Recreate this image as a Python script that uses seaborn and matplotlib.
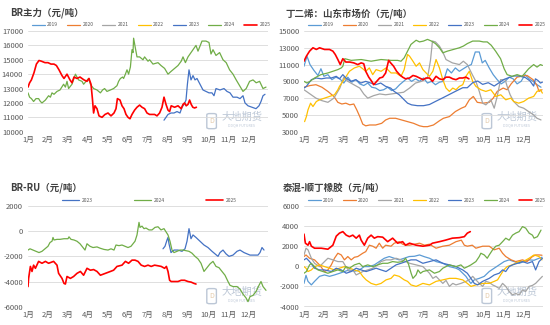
import numpy as np
import pandas as pd
import matplotlib
matplotlib.use("Agg")
import matplotlib.pyplot as plt
import seaborn as sns
from matplotlib.lines import Line2D
from matplotlib.patches import FancyBboxPatch

sns.set_theme(style="white")
plt.rcParams['font.family'] = ['Noto Sans CJK SC', 'DejaVu Sans']
plt.rcParams['axes.unicode_minus'] = False

MONTHS = ["1月", "2月", "3月", "4月", "5月", "6月", "7月", "8月", "9月", "10月", "11月", "12月"]
YEARS = ["2019", "2020", "2021", "2022", "2023", "2024", "2025"]
COLORS = {"2019": "#5B9BD5", "2020": "#ED7D31", "2021": "#A5A5A5", "2022": "#FFC000",
          "2023": "#4472C4", "2024": "#70AD47", "2025": "#FF0000"}

# ---------------- Panel 1: BR主力 (x = month index, 0 = Jan 1) ----------------
BR_X_2023 = [6.8, 6.9, 7.0, 7.15, 7.3, 7.45, 7.6, 7.7, 7.8, 7.9, 7.97, 8.05, 8.15, 8.25, 8.35, 8.45, 8.6, 8.75, 8.9,
             9.05, 9.2, 9.3, 9.4, 9.6, 9.8, 9.95, 10.1, 10.25, 10.45, 10.6, 10.75, 10.85, 11.0, 11.2, 11.4, 11.55,
             11.65, 11.75, 11.85]
BR_Y_2023 = [10800, 11000, 11200, 11300, 11300, 11400, 11300, 11700, 11900, 12200, 13300, 14300, 13600, 13900, 13600,
             13700, 13300, 12900, 12800, 12700, 12700, 12500, 13000, 12900, 13000, 12800, 12700, 12400, 12400, 12300,
             12500, 12000, 11800, 11700, 11600, 11800, 12100, 12500, 12600]
BR_X_2024 = [0.0, 0.08, 0.17, 0.28, 0.4, 0.53, 0.62, 0.7, 0.87, 1.03, 1.12, 1.2, 1.3, 1.45, 1.6, 1.78, 1.87, 1.95,
             2.03, 2.2, 2.37, 2.53, 2.7, 2.78, 2.9, 3.03, 3.12, 3.28, 3.45, 3.62, 3.73, 3.83, 3.95, 4.12, 4.28, 4.45,
             4.53, 4.62, 4.73, 4.78, 4.87, 4.95, 5.03, 5.12, 5.2, 5.25, 5.28, 5.37, 5.45, 5.58, 5.75, 5.83, 6.0,
             6.08, 6.25, 6.5, 6.65, 6.83, 7.0, 7.16, 7.33, 7.5, 7.66, 7.75, 7.87, 8.0, 8.2, 8.4, 8.5, 8.7, 8.9,
             9.05, 9.15, 9.25, 9.4, 9.58, 9.75, 9.91, 10.08, 10.25, 10.41, 10.58, 10.75, 10.91, 11.08, 11.25, 11.41,
             11.58, 11.75, 11.9]
BR_Y_2024 = [12700, 12400, 12300, 12100, 12300, 12300, 12100, 12000, 12200, 12500, 12400, 12700, 12600, 12800,
             12900, 13300, 13100, 13500, 13000, 13300, 14000, 13600, 13500, 13300, 13500, 13700, 13300, 13000,
             12900, 12700, 12900, 13000, 12800, 12900, 13000, 13200, 13500, 13700, 13800, 13700, 14000, 14300,
             14000, 14500, 15700, 15500, 16500, 15800, 15200, 15200, 15000, 15200, 14900, 15000, 14700, 14800,
             14600, 14400, 14000, 14200, 14400, 14600, 14900, 15200, 14800, 15200, 15600, 16000, 15600, 16300,
             16300, 16200, 15400, 15700, 15300, 15500, 15000, 14800, 14300, 14000, 13600, 13200, 12800, 13000,
             13500, 13600, 13400, 13500, 13000, 13100]
BR_X_2025 = [0.0, 0.08, 0.17, 0.3, 0.42, 0.55, 0.67, 0.85, 1.0, 1.15, 1.3, 1.42, 1.55, 1.7, 1.8, 1.95, 2.1, 2.2,
             2.3, 2.45, 2.6, 2.8, 2.95, 3.05, 3.15, 3.22, 3.28, 3.35, 3.45, 3.55, 3.7, 3.85, 4.0, 4.15, 4.3, 4.4,
             4.47, 4.6, 4.7, 4.8, 4.9, 5.0, 5.1, 5.2, 5.33, 5.45, 5.58, 5.7, 5.83, 5.95, 6.08, 6.33, 6.45, 6.58,
             6.7, 6.8, 6.9, 7.0, 7.08, 7.16, 7.33, 7.5, 7.66, 7.75, 7.83, 7.91, 8.0, 8.08, 8.16, 8.24, 8.33, 8.42]
BR_Y_2025 = [13100, 13400, 13600, 14100, 14700, 14950, 14900, 14800, 14800, 14700, 14700, 14600, 14300, 13900,
             13700, 14000, 13600, 13400, 13800, 13700, 13800, 13600, 13500, 13700, 13300, 12300, 11300, 11800,
             11600, 11100, 11000, 11200, 11300, 11100, 11300, 11600, 12300, 12200, 11800, 11600, 11200, 11000,
             10900, 11200, 11500, 11700, 11850, 11700, 11600, 11300, 11200, 11200, 11100, 11300, 11700, 12400,
             11900, 11500, 11400, 11800, 11700, 11800, 11600, 11900, 12000, 11800, 11900, 12200, 11900, 11700,
             11650, 11700]

# ---------------- Panel 2: 丁二烯 山东市场价 ----------------
DI_X_2019 = [0, 0.15, 0.3, 0.5, 0.7, 0.85, 1.0, 1.2, 1.4, 1.6, 1.8, 2.0, 2.2, 2.4, 2.6, 2.8, 3.0, 3.2, 3.4, 3.6,
             3.8, 4.0, 4.2, 4.4, 4.6, 4.8, 5.0, 5.2, 5.4, 5.6, 5.8, 6.0, 6.2, 6.4, 6.6, 6.8, 7.0, 7.2, 7.4, 7.6,
             7.8, 8.0, 8.2, 8.4, 8.6, 8.8, 8.95, 9.1, 9.3, 9.5, 9.7, 9.9, 10.1, 10.3, 10.5, 10.7, 10.9, 11.1,
             11.3, 11.5, 11.7, 11.9]
DI_Y_2019 = [10800, 12000, 11000, 10300, 9700, 10500, 9600, 9800, 9200, 9500, 9300, 8800, 9500, 8900, 9200, 8700,
             8500, 8800, 8300, 8200, 7900, 8000, 8300, 7900, 8100, 8600, 9000, 9400, 9000, 9300, 9000, 9400, 8800,
             9000, 8600, 8900, 9000, 10500, 10000, 10600, 10200, 10500, 10800, 11000, 12500, 12500, 11200, 11500,
             10600, 9800, 9200, 8700, 9000, 9500, 9300, 8700, 9000, 9800, 9300, 9000, 8600, 8300]
DI_X_2020 = [0, 0.3, 0.6, 0.9, 1.2, 1.5, 1.7, 1.9, 2.1, 2.3, 2.5, 2.65, 2.8, 2.95, 3.1, 3.3, 3.6, 3.9, 4.1, 4.3,
             4.6, 4.9, 5.2, 5.5, 5.8, 6.0, 6.2, 6.5, 6.8, 7.0, 7.3, 7.6, 7.9, 8.1, 8.3, 8.5, 8.7, 9.0, 9.3, 9.5,
             9.7, 10.0, 10.2, 10.4, 10.7, 10.9, 11.2, 11.5, 11.7, 11.8, 11.95]
DI_Y_2020 = [8300, 8500, 8600, 8300, 7800, 7200, 6500, 6300, 6400, 6200, 6300, 5600, 4800, 3900, 3700, 3800, 3800,
             4000, 4400, 4600, 4600, 4400, 4200, 4000, 3700, 3600, 3600, 3800, 4300, 4600, 4800, 5400, 5800, 6000,
             6800, 7200, 6500, 6400, 6500, 7000, 7800, 8200, 8000, 8700, 9500, 9600, 9700, 9200, 8500, 7800, 8000]
DI_X_2021 = [0, 0.3, 0.6, 0.9, 1.2, 1.5, 1.8, 2.0, 2.2, 2.5, 2.8, 3.0, 3.2, 3.5, 3.8, 4.1, 4.4, 4.7, 5.0, 5.3,
             5.6, 5.9, 6.2, 6.35, 6.45, 6.6, 6.8, 6.95, 7.13, 7.45, 7.8, 8.0, 8.2, 8.45, 8.63, 8.8, 8.97, 9.13,
             9.38, 9.55, 9.7, 9.87, 10.1, 10.2, 10.35, 10.53, 10.78, 11.03, 11.28, 11.53, 11.7, 11.9]
DI_Y_2021 = [8000, 7500, 7000, 6700, 6500, 7000, 8200, 9500, 9000, 8600, 8200, 7500, 7000, 7300, 7500, 7400, 7500,
             7600, 7700, 8200, 8800, 9000, 9400, 11500, 13800, 13700, 13200, 12600, 11600, 11200, 11000, 11400,
             11000, 9800, 9000, 7800, 6400, 6200, 6800, 5800, 7200, 9200, 9200, 8400, 7400, 6600, 6000, 5800,
             5400, 5000, 4600, 4400]
DI_X_2022 = [0.03, 0.12, 0.2, 0.33, 0.45, 0.62, 0.78, 1.03, 1.28, 1.53, 1.7, 1.78, 1.95, 2.12, 2.28, 2.53, 2.78,
             2.95, 3.1, 3.28, 3.45, 3.62, 3.87, 4.12, 4.37, 4.62, 4.87, 5.03, 5.12, 5.2, 5.3, 5.47, 5.63, 5.8,
             5.97, 6.13, 6.3, 6.47, 6.63, 6.8, 6.97, 7.13, 7.3, 7.47, 7.63, 7.8, 7.97, 8.13, 8.3, 8.47, 8.63,
             8.88, 9.13, 9.38, 9.63, 9.88, 10.13, 10.38, 10.53, 10.78, 11.03, 11.28, 11.53, 11.7, 11.87, 11.97]
DI_Y_2022 = [4200, 4800, 5600, 6400, 6000, 6600, 6800, 7000, 7200, 7400, 8000, 8400, 9000, 9600, 10200, 10600,
             10800, 10500, 10200, 10600, 9800, 10400, 10200, 10600, 10000, 10000, 9600, 10400, 11400, 12200,
             12000, 11400, 10800, 11200, 10400, 10000, 9600, 10200, 11600, 10600, 9200, 8200, 7800, 8200, 8000,
             8400, 8600, 9600, 10200, 9000, 8400, 8000, 7800, 8000, 7200, 7400, 6800, 7000, 6600, 6400, 6600,
             7000, 7200, 7800, 8000, 7600]
DI_X_2023 = [0, 0.12, 0.37, 0.62, 0.87, 1.12, 1.37, 1.62, 1.78, 1.95, 2.1, 2.35, 2.6, 2.85, 3.1, 3.35, 3.6, 3.85,
             4.1, 4.35, 4.53, 4.78, 5.03, 5.2, 5.4, 5.7, 6.0, 6.3, 6.63, 6.97, 7.3, 7.63, 7.97, 8.2, 8.47, 8.72,
             8.97, 9.25, 9.55, 9.8, 10.05, 10.28, 10.53, 10.8, 11.12, 11.35, 11.53, 11.62, 11.75, 11.87, 11.97]
DI_Y_2023 = [8200, 8400, 9200, 9400, 9300, 9400, 9400, 9600, 9300, 9800, 9400, 9000, 9200, 8800, 9000, 8800, 8600,
             8800, 8400, 8200, 7800, 7400, 6800, 6400, 6200, 6100, 6100, 6240, 6640, 7040, 7440, 7840, 8240, 8240,
             8840, 9040, 8640, 8840, 8440, 8840, 9240, 9440, 9640, 9640, 9440, 9040, 8440, 9300, 9100, 8800, 8900]
DI_X_2024 = [0, 0.15, 0.3, 0.53, 0.85, 1.2, 1.45, 1.7, 1.87, 1.95, 2.05, 2.37, 2.87, 3.37, 3.87, 4.37, 4.7, 4.87,
             5.03, 5.2, 5.37, 5.63, 5.8, 6.0, 6.2, 6.4, 6.6, 6.8, 6.97, 7.2, 7.5, 7.8, 8.0, 8.2, 8.47, 8.8, 9.0,
             9.2, 9.4, 9.62, 9.87, 10.05, 10.2, 10.45, 10.7, 10.95, 11.1, 11.28, 11.53, 11.7, 11.87, 11.97]
DI_Y_2024 = [9000, 8800, 9000, 9400, 9800, 10000, 10200, 10400, 10600, 10800, 11700, 11500, 11600, 11400, 11600,
             11500, 11500, 11400, 11800, 12600, 13400, 13900, 13700, 13800, 14000, 13800, 13500, 13000, 12400,
             12600, 12800, 13000, 13200, 13500, 13800, 13800, 13700, 13700, 13300, 12600, 11700, 10500, 9800,
             9600, 9800, 9600, 10000, 10500, 11000, 10700, 11000, 10900]
DI_X_2025 = [0, 0.12, 0.28, 0.45, 0.62, 0.78, 1.03, 1.28, 1.45, 1.57, 1.7, 1.82, 1.95, 2.1, 2.3, 2.5, 2.7, 2.87,
             3.0, 3.1, 3.25, 3.4, 3.5, 3.65, 3.8, 3.95, 4.1, 4.25, 4.35, 4.5, 4.65, 4.8, 4.95, 5.1, 5.3, 5.47,
             5.63, 5.8, 5.97, 6.13, 6.3, 6.45, 6.63, 6.8, 6.97, 7.13, 7.3, 7.47, 7.63, 7.8, 7.97, 8.13, 8.28]
DI_Y_2025 = [11400, 12000, 12600, 13000, 12800, 13000, 12800, 12800, 12600, 12200, 11600, 11000, 11700, 11300,
             11300, 11200, 11000, 11200, 11100, 10200, 9500, 9000, 8600, 9000, 9400, 9500, 10000, 11500, 11200,
             10800, 10200, 9800, 9500, 9300, 9400, 9700, 9600, 9400, 9200, 9400, 9400, 9000, 9600, 9300, 9200,
             9500, 9500, 9300, 9200, 9400, 9400, 9500, 9300]

# ---------------- Panel 3: BR-RU ----------------
RU_X_2023 = [6.75, 6.85, 6.95, 7.0, 7.05, 7.15, 7.3, 7.5, 7.7, 7.85, 7.95, 8.05, 8.15, 8.25, 8.4, 8.6, 8.8, 9.0,
             9.2, 9.35, 9.5, 9.6, 9.75, 9.9, 10.05, 10.25, 10.45, 10.6, 10.8, 10.95, 11.1, 11.3, 11.5, 11.6, 11.7,
             11.8]
RU_Y_2023 = [-1400, -1200, -700, -500, -1000, -1700, -1500, -1500, -1600, -1400, -800, 200, -600, -300, -500, -800,
             -1100, -1300, -1600, -1800, -2000, -1700, -1500, -1800, -2000, -1900, -1600, -1500, -1700, -1800,
             -1900, -1900, -1900, -1700, -1300, -1500]
RU_X_2024 = [0.0, 0.1, 0.25, 0.4, 0.55, 0.7, 0.85, 1.0, 1.1, 1.2, 1.25, 1.3, 1.45, 1.6, 1.8, 2.0, 2.05, 2.15, 2.3,
             2.45, 2.6, 2.75, 2.85, 2.95, 3.1, 3.25, 3.45, 3.6, 3.8, 4.0, 4.15, 4.3, 4.4, 4.55, 4.7, 4.85, 5.0,
             5.15, 5.25, 5.35, 5.45, 5.5, 5.55, 5.6, 5.7, 5.8, 5.9, 6.05, 6.2, 6.35, 6.5, 6.65, 6.8, 6.9, 7.0,
             7.1, 7.2, 7.3, 7.45, 7.6, 7.75, 7.9, 8.05, 8.2, 8.35, 8.5, 8.65, 8.8, 8.95, 9.1, 9.25, 9.4, 9.55,
             9.7, 9.85, 10.0, 10.1, 10.25, 10.45, 10.6, 10.75, 10.9, 11.0, 11.1, 11.25, 11.4, 11.55, 11.65,
             11.75, 11.9]
RU_Y_2024 = [-1500, -1400, -1500, -1600, -1700, -1600, -1400, -1200, -900, -800, -500, -700, -650, -650, -600,
             -600, -450, -650, -700, -800, -1000, -1300, -1500, -1000, -1200, -1300, -1250, -1350, -1450, -1500,
             -1400, -1500, -1100, -1150, -1100, -1200, -1300, -1200, -1000, -800, -300, 200, 700, 300, 400, 200,
             250, 100, 100, 300, 350, 100, 200, -50, -300, -800, -1500, -1700, -1600, -1500, -1500, -1550, -1600,
             -1750, -2000, -2200, -2550, -3200, -2900, -2600, -2400, -2800, -2900, -3200, -3500, -4000, -4300,
             -4400, -4400, -4600, -5000, -5300, -5600, -5200, -5100, -4800, -4300, -4000, -4400, -4700]
RU_X_2025 = [0.0, 0.03, 0.12, 0.2, 0.28, 0.37, 0.53, 0.7, 0.87, 1.03, 1.28, 1.45, 1.53, 1.7, 1.8, 1.87, 1.95,
             2.12, 2.28, 2.45, 2.62, 2.78, 2.95, 3.12, 3.28, 3.45, 3.62, 3.87, 4.12, 4.28, 4.45, 4.7, 4.87, 5.03,
             5.2, 5.35, 5.5, 5.66, 5.83, 6.0, 6.16, 6.33, 6.5, 6.66, 6.83, 6.92, 7.0, 7.08, 7.16, 7.33, 7.5, 7.66,
             7.83, 8.0, 8.16, 8.3, 8.4]
RU_Y_2025 = [-4400, -3750, -2800, -3200, -2700, -2950, -2400, -2550, -2400, -2550, -2400, -2700, -3350, -3750,
             -4150, -4200, -3600, -3750, -3600, -3350, -3200, -3500, -2950, -3100, -3050, -3200, -3500, -3350,
             -3200, -3100, -2800, -2700, -2400, -2550, -2300, -2300, -2400, -2700, -2800, -2700, -2800, -2700,
             -2750, -2800, -2950, -2800, -3200, -3900, -4000, -4000, -4000, -3900, -3900, -4000, -4050, -4150,
             -4200]

# ---------------- Panel 4: 泰混-顺丁橡胶 ----------------
TH_X_2019 = [0, 0.1, 0.2, 0.37, 0.53, 0.78, 1.03, 1.28, 1.53, 1.78, 2.03, 2.28, 2.53, 2.78, 3.03, 3.28, 3.53, 3.78,
             4.03, 4.28, 4.53, 4.78, 5.03, 5.28, 5.55, 5.8, 6.05, 6.3, 6.63, 6.97, 7.3, 7.63, 7.8, 7.97, 8.13, 8.3,
             8.38, 8.55, 8.8, 9.05, 9.3, 9.55, 9.8, 10.05, 10.3, 10.55, 10.8, 11.05, 11.3, 11.55, 11.8, 11.95]
TH_Y_2019 = [-1700, -900, -1500, -1850, -1500, -1000, -860, -1000, -860, -700, -520, -360, -500, -360, -30, -30,
             140, 470, 800, 970, 800, 640, 800, 970, 1000, 1130, 950, 800, 470, 300, -30, -190, -360, -690, -1000,
             -1500, -1700, -1350, -1200, -1000, -520, -190, 140, 470, 640, 470, 300, 470, 640, 600, 800, 900]
TH_X_2020 = [0, 0.1, 0.28, 0.53, 0.78, 1.03, 1.2, 1.37, 1.53, 1.7, 1.87, 2.03, 2.2, 2.37, 2.53, 2.7, 2.95, 3.1,
             3.28, 3.45, 3.62, 3.78, 3.95, 4.1, 4.37, 4.53, 4.78, 4.95, 5.1, 5.3, 5.55, 5.8, 6.05, 6.3, 6.63, 6.97,
             7.3, 7.63, 7.9, 8.05, 8.2, 8.45, 8.63, 8.97, 9.3, 9.55, 9.8, 9.97, 10.13, 10.4, 10.63, 10.97, 11.2,
             11.47, 11.63, 11.8, 11.95]
TH_Y_2020 = [970, 1130, 800, 640, 140, -520, -360, 140, 800, 1300, 1130, 640, 970, 640, 900, 970, 1300, 1460, 2100,
             2000, 1800, 2300, 1800, 2100, 2000, 2300, 2450, 2200, 2100, 2100, 2200, 2300, 2100, 2200, 1800, 2000,
             2100, 2450, 2600, 2100, 2000, 2100, 1800, 2000, 2000, 1640, 1800, 1300, 970, 640, 470, 640, 470, 970,
             1130, 1130, 1100]
TH_X_2021 = [0, 0.1, 0.2, 0.37, 0.53, 0.78, 1.03, 1.2, 1.45, 1.7, 1.95, 2.1, 2.28, 2.45, 2.62, 2.78, 2.95, 3.2,
             3.45, 3.7, 3.87, 4.12, 4.37, 4.62, 4.87, 5.12, 5.3, 5.63, 5.97, 6.3, 6.47, 6.63, 6.8, 6.97, 7.13, 7.3,
             7.47, 7.63, 7.88, 8.13, 8.3, 8.47, 8.63, 8.8, 8.97, 9.13, 9.3, 9.47, 9.63, 9.8, 9.97, 10.13, 10.3,
             10.47, 10.63, 10.8, 10.97, 11.13, 11.3, 11.47, 11.63, 11.8, 11.97]
TH_Y_2021 = [1130, 1800, 1640, 800, 300, -30, 470, 800, 640, 470, 470, -30, -520, -360, -860, -700, -520, -360,
             -190, 140, 470, 640, 640, 800, 640, 470, 300, 140, -30, -690, -1200, -1000, -1350, -1700, -1400,
             -2000, -1700, -1850, -1700, -1500, -1350, -1000, -1350, -1700, -2000, -1500, -1600, -1850, -2000,
             -2200, -1700, -2000, -2500, -2850, -2700, -2850, -2350, -2500, -2000, -1900, -1700, -1350, -1000]
TH_X_2022 = [0, 0.1, 0.2, 0.37, 0.53, 0.78, 1.03, 1.28, 1.53, 1.78, 2.03, 2.28, 2.53, 2.78, 2.95, 3.12, 3.37,
             3.62, 3.87, 4.12, 4.37, 4.53, 4.78, 5.03, 5.2, 5.37, 5.63, 5.97, 6.3, 6.63, 6.97, 7.3, 7.63, 7.97,
             8.2, 8.38, 8.63, 8.97, 9.3, 9.55, 9.72, 9.87, 10.03, 10.2, 10.45, 10.8, 11.03, 11.3, 11.55, 11.8,
             11.95]
TH_Y_2022 = [-30, -190, -520, -360, -30, 140, -30, -190, -360, -190, -30, -190, -360, -520, -1000, -1350, -1700,
             -1850, -1700, -1350, -1200, -860, -1000, -1350, -1500, -1850, -2000, -1700, -1850, -1500, -1350,
             -1200, -1200, -1350, -1700, -2000, -1850, -1700, -1700, -1500, -1350, -860, -360, -30, 140, 470, 500,
             800, 1130, 970, 640]
TH_X_2023 = [0, 0.12, 0.28, 0.53, 0.78, 1.03, 1.37, 1.62, 1.87, 2.12, 2.37, 2.62, 2.87, 3.12, 3.37, 3.62, 3.87,
             4.12, 4.37, 4.62, 4.87, 5.12, 5.37, 5.63, 5.97, 6.3, 6.63, 6.97, 7.3, 7.63, 7.97, 8.2, 8.38, 8.55,
             8.72, 8.97, 9.3, 9.55, 9.8, 9.97, 10.13, 10.3, 10.47, 10.72, 10.97, 11.22, 11.47, 11.63, 11.8, 11.97]
TH_Y_2023 = [640, 800, 470, -190, -360, -360, -520, -190, -360, -690, -520, -190, -360, -520, -360, -190, -360,
             -520, -190, 140, 300, 470, 640, 640, 300, 470, 640, 300, 140, -30, -360, -690, -1200, -1700, -1850,
             -1500, -1200, -860, -690, -360, -520, -30, 140, 300, 470, 300, 470, -360, 470, 800]
TH_X_2024 = [0, 0.12, 0.28, 0.37, 0.53, 0.7, 0.95, 1.2, 1.45, 1.7, 1.95, 2.1, 2.28, 2.53, 2.78, 2.95, 3.2, 3.45,
             3.7, 3.95, 4.2, 4.45, 4.7, 4.95, 5.1, 5.25, 5.38, 5.47, 5.63, 5.72, 5.85, 5.97, 6.3, 6.55, 6.8, 6.97,
             7.13, 7.3, 7.63, 7.88, 8.05, 8.22, 8.38, 8.63, 8.8, 8.88, 9.05, 9.2, 9.3, 9.47, 9.63, 9.8, 9.97,
             10.13, 10.3, 10.47, 10.63, 10.8, 10.97, 11.13, 11.3, 11.47, 11.55, 11.72, 11.9]
TH_Y_2024 = [-690, -520, 140, 300, -30, -360, -520, -690, -520, -360, -520, -30, -190, 140, 300, -30, 140, -30,
             140, 300, 300, 470, 400, 470, 800, 200, -700, -1200, -850, -360, -700, -520, -360, -690, -520, -190,
             -30, 140, -30, 140, -190, -30, 140, 470, 970, 1300, 1130, 800, 1130, 1640, 2000, 2100, 2450, 2800,
             2600, 3100, 3300, 3450, 3950, 3800, 3300, 3100, 2800, 2950, 3600]
TH_X_2025 = [0, 0.03, 0.07, 0.2, 0.28, 0.37, 0.53, 0.87, 1.2, 1.45, 1.62, 1.78, 1.95, 2.12, 2.28, 2.45, 2.62, 2.78,
             2.87, 3.03, 3.2, 3.37, 3.53, 3.7, 3.95, 4.2, 4.45, 4.7, 4.95, 5.1, 5.3, 5.63, 5.97, 6.3, 6.45, 6.8,
             7.1, 7.45, 7.8, 8.05, 8.2, 8.35]
TH_Y_2025 = [3200, 2800, 2300, 2100, 2450, 2000, 1800, 1800, 1700, 2100, 3000, 3300, 3450, 3100, 2950, 3100, 2800,
             3100, 2600, 2100, 2800, 3100, 2800, 2950, 2900, 2450, 2800, 2300, 2450, 2100, 2300, 2100, 2000, 2100,
             2300, 2450, 2600, 2800, 2850, 2950, 3300, 3450]

PANELS = [
    dict(title="BR主力（元/吨）", rect=(28, 268, 31, 131.7), title_xy=(10, 13),
         series={"2023": (BR_X_2023, BR_Y_2023), "2024": (BR_X_2024, BR_Y_2024), "2025": (BR_X_2025, BR_Y_2025)},
         ylim=(10000, 17000), yticks=list(range(10000, 17001, 1000)), legend=YEARS),
    dict(title="丁二烯：山东市场价（元/吨）", rect=(304, 543, 31, 131.7), title_xy=(285, 14),
         series={"2019": (DI_X_2019, DI_Y_2019), "2020": (DI_X_2020, DI_Y_2020), "2021": (DI_X_2021, DI_Y_2021),
                 "2022": (DI_X_2022, DI_Y_2022), "2023": (DI_X_2023, DI_Y_2023), "2024": (DI_X_2024, DI_Y_2024),
                 "2025": (DI_X_2025, DI_Y_2025)},
         ylim=(3000, 15000), yticks=list(range(3000, 15001, 2000)), legend=YEARS),
    dict(title="BR-RU（元/吨）", rect=(28, 268, 206, 306.7), title_xy=(10, 188),
         series={"2023": (RU_X_2023, RU_Y_2023), "2024": (RU_X_2024, RU_Y_2024), "2025": (RU_X_2025, RU_Y_2025)},
         ylim=(-6000, 2000), yticks=list(range(-6000, 2001, 2000)), legend=["2023", "2024", "2025"]),
    dict(title="泰混-顺丁橡胶（元/吨）", rect=(304, 543, 206, 306.5), title_xy=(283, 188),
         series={"2019": (TH_X_2019, TH_Y_2019), "2020": (TH_X_2020, TH_Y_2020), "2021": (TH_X_2021, TH_Y_2021),
                 "2022": (TH_X_2022, TH_Y_2022), "2023": (TH_X_2023, TH_Y_2023), "2024": (TH_X_2024, TH_Y_2024),
                 "2025": (TH_X_2025, TH_Y_2025)},
         ylim=(-4000, 6000), yticks=list(range(-4000, 6001, 2000)), legend=YEARS),
]

W, H = 550, 325
fig = plt.figure(figsize=(5.5, 3.25), dpi=100)
fig.patch.set_facecolor("white")
TXT = "#595959"
WM = "#BCC7D6"


def watermark(ax):
    ax.add_patch(FancyBboxPatch((0.745, 0.03), 0.04, 0.15, boxstyle="round,pad=0,rounding_size=0.012",
                                transform=ax.transAxes, fc="none", ec=WM, lw=1.0, zorder=0.5))
    ax.text(0.765, 0.105, "D", transform=ax.transAxes, fontsize=5, color="#E3C9A8", ha="center", va="center",
            zorder=0.5)
    ax.text(0.89, 0.15, "大地期货", transform=ax.transAxes, fontsize=7.4, color=WM, ha="center", va="center",
            zorder=0.5)
    ax.text(0.89, 0.062, "DDQH FUTURES", transform=ax.transAxes, fontsize=2.6, color=WM, ha="center",
            va="center", zorder=0.5)


for p in PANELS:
    x0, x1, yt, yb = p["rect"]
    ax = fig.add_axes([x0 / W, 1 - yb / H, (x1 - x0) / W, (yb - yt) / H])
    watermark(ax)
    for year, (xs, ys) in p["series"].items():
        df = pd.DataFrame({"month": xs, "value": ys})
        sns.lineplot(data=df, x="month", y="value", ax=ax, color=COLORS[year],
                     linewidth=1.2 if year == "2025" else 0.9, estimator=None, sort=False, legend=False)
    ax.set_xlim(0, 12)
    ax.set_ylim(*p["ylim"])
    ax.set_yticks(p["yticks"])
    ax.set_yticklabels([str(v) for v in p["yticks"]])
    ax.set_xticks(range(12))
    ax.set_xticklabels(MONTHS)
    ax.set_xlabel("")
    ax.set_ylabel("")
    ax.tick_params(axis="both", length=0, labelsize=5.5, colors=TXT)
    ax.tick_params(axis="x", pad=3.0)
    ax.tick_params(axis="y", pad=3.5)
    ax.grid(False)
    ax.yaxis.grid(True, color="#D9D9D9", linewidth=0.6)
    ax.set_axisbelow(True)
    for s in ax.spines.values():
        s.set_visible(False)
    ax.set_facecolor("none")

    years = p["legend"]
    handles = [Line2D([], [], color=COLORS[y], lw=1.2 if y == "2025" else 0.9) for y in years]
    h_ax = yb - yt
    if len(years) == 7:
        leg = ax.legend(handles, years, loc="center", bbox_to_anchor=(0.015, 1 + 6.0 / h_ax, 0.995, 0),
                        mode="expand", ncol=7, frameon=False, fontsize=3.6, handlelength=2.6,
                        handletextpad=0.5, borderaxespad=0, borderpad=0)
    else:
        leg = ax.legend(handles, years, loc="center", bbox_to_anchor=(0.14, 1 + 5.3 / h_ax, 0.73, 0),
                        mode="expand", ncol=3, frameon=False, fontsize=3.6, handlelength=3.5,
                        handletextpad=0.5, borderaxespad=0, borderpad=0)
    for t in leg.get_texts():
        t.set_color(TXT)

    tx, ty = p["title_xy"]
    fig.text(tx / W, 1 - ty / H, p["title"], fontsize=6.8, fontweight="bold", color="#404040",
             ha="left", va="center")

fig.savefig("out.png", dpi=100, facecolor="white")
